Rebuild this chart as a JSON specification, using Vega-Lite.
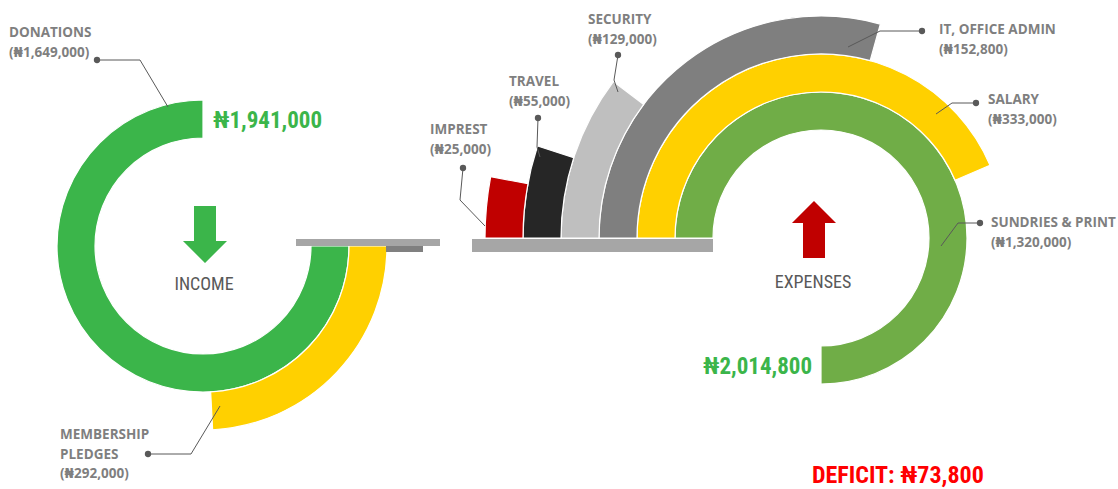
{
  "$schema": "https://vega.github.io/schema/vega-lite/v6.json",
  "width": 1118,
  "height": 489,
  "padding": 0,
  "autosize": {"type": "none"},
  "background": "white",
  "config": {"view": {"stroke": null}},
  "datasets": {
    "rings": [
      {"item": "Donations", "section": "Income", "amount": 1649000, "x": 203, "y": 246, "start": 90, "end": 360, "inner": 0, "outer": 1},
      {"item": "Membership Pledges", "section": "Income", "amount": 292000, "x": 203, "y": 246, "start": 90, "end": 177, "inner": 1, "outer": 2},
      {"item": "Sundries & Print", "section": "Expenses", "amount": 1320000, "x": 821, "y": 238, "start": 270, "end": 540, "inner": 0, "outer": 1},
      {"item": "Salary", "section": "Expenses", "amount": 333000, "x": 821, "y": 238, "start": 270, "end": 426.7, "inner": 1, "outer": 2},
      {"item": "IT, Office Admin", "section": "Expenses", "amount": 152800, "x": 821, "y": 238, "start": 270, "end": 375.5, "inner": 2, "outer": 3},
      {"item": "Security", "section": "Expenses", "amount": 129000, "x": 821, "y": 238, "start": 270, "end": 307, "inner": 3, "outer": 4},
      {"item": "Travel", "section": "Expenses", "amount": 55000, "x": 821, "y": 238, "start": 270, "end": 288, "inner": 4, "outer": 5},
      {"item": "Imprest", "section": "Expenses", "amount": 25000, "x": 821, "y": 238, "start": 270, "end": 280.5, "inner": 5, "outer": 6}
    ],
    "plates": [
      {"item": "Plate", "x": 296, "x2": 440, "y": 239, "y2": 246},
      {"item": "Plate shadow", "x": 386, "x2": 423, "y": 246, "y2": 252},
      {"item": "Plate", "x": 472, "x2": 713, "y": 239, "y2": 252}
    ],
    "leaders": [
      {"label": "Donations", "seq": 0, "x": 97, "y": 60},
      {"label": "Donations", "seq": 1, "x": 140, "y": 60},
      {"label": "Donations", "seq": 2, "x": 168, "y": 107},
      {"label": "Membership Pledges", "seq": 0, "x": 148, "y": 454},
      {"label": "Membership Pledges", "seq": 1, "x": 191, "y": 454},
      {"label": "Membership Pledges", "seq": 2, "x": 220, "y": 406},
      {"label": "Imprest", "seq": 0, "x": 463, "y": 168},
      {"label": "Imprest", "seq": 1, "x": 460, "y": 200},
      {"label": "Imprest", "seq": 2, "x": 485, "y": 226},
      {"label": "Travel", "seq": 0, "x": 538, "y": 118},
      {"label": "Travel", "seq": 1, "x": 537, "y": 147},
      {"label": "Travel", "seq": 2, "x": 540, "y": 157},
      {"label": "Security", "seq": 0, "x": 618, "y": 55},
      {"label": "Security", "seq": 1, "x": 614, "y": 80},
      {"label": "Security", "seq": 2, "x": 618, "y": 92},
      {"label": "IT, Office Admin", "seq": 0, "x": 922, "y": 31},
      {"label": "IT, Office Admin", "seq": 1, "x": 880, "y": 31},
      {"label": "IT, Office Admin", "seq": 2, "x": 848, "y": 47},
      {"label": "Salary", "seq": 0, "x": 976, "y": 103},
      {"label": "Salary", "seq": 1, "x": 952, "y": 103},
      {"label": "Salary", "seq": 2, "x": 936, "y": 114},
      {"label": "Sundries & Print", "seq": 0, "x": 980, "y": 223},
      {"label": "Sundries & Print", "seq": 1, "x": 958, "y": 223},
      {"label": "Sundries & Print", "seq": 2, "x": 941, "y": 246}
    ],
    "arrows": [
      {"section": "Income", "x": 205, "y": 234.5},
      {"section": "Expenses", "x": 814, "y": 229.5}
    ],
    "labels": [
      {"kind": "category", "text": "DONATIONS\n(₦1,649,000)", "x": 9, "y": 33},
      {"kind": "category", "text": "MEMBERSHIP\nPLEDGES\n(₦292,000)", "x": 60, "y": 435},
      {"kind": "category", "text": "IMPREST\n(₦25,000)", "x": 430, "y": 130},
      {"kind": "category", "text": "TRAVEL\n(₦55,000)", "x": 509, "y": 82},
      {"kind": "category", "text": "SECURITY\n(₦129,000)", "x": 588, "y": 20},
      {"kind": "category", "text": "IT, OFFICE ADMIN\n(₦152,800)", "x": 939, "y": 30},
      {"kind": "category", "text": "SALARY\n(₦333,000)", "x": 988, "y": 100},
      {"kind": "category", "text": "SUNDRIES & PRINT\n(₦1,320,000)", "x": 991, "y": 223},
      {"kind": "total", "text": "₦1,941,000", "x": 213, "y": 121},
      {"kind": "total", "text": "₦2,014,800", "x": 703, "y": 367},
      {"kind": "section", "text": "INCOME", "x": 204, "y": 285},
      {"kind": "section", "text": "EXPENSES", "x": 813, "y": 283},
      {"kind": "deficit", "text": "DEFICIT: ₦73,800", "x": 812, "y": 476}
    ]
  },
  "encoding": {
    "x": {"field": "x", "type": "quantitative", "scale": {"domain": [0, 1118], "nice": false, "zero": false}, "axis": null},
    "y": {"field": "y", "type": "quantitative", "scale": {"domain": [0, 489], "reverse": true, "nice": false, "zero": false}, "axis": null}
  },
  "layer": [
    {
      "data": {"name": "rings"},
      "mark": {"type": "arc", "stroke": "white", "strokeWidth": 1.2},
      "encoding": {
        "theta": {"field": "start", "type": "quantitative", "stack": null, "scale": {"domain": [0, 360], "range": [0, 6.283185307179586], "nice": false, "zero": false}},
        "theta2": {"field": "end"},
        "radius": {"field": "outer", "type": "quantitative", "scale": {"type": "linear", "domain": [0, 6], "range": [108, 336], "nice": false, "zero": false}},
        "radius2": {"field": "inner"},
        "color": {
          "field": "item", "type": "nominal", "legend": null,
          "scale": {
            "domain": ["Donations", "Membership Pledges", "Sundries & Print", "Salary", "IT, Office Admin", "Security", "Travel", "Imprest", "Plate", "Plate shadow"],
            "range": ["#3bb54a", "#ffd000", "#70ad47", "#ffd000", "#7f7f7f", "#bfbfbf", "#262626", "#c00000", "#a6a6a6", "#808080"]
          }
        }
      }
    },
    {
      "data": {"name": "plates"},
      "mark": {"type": "rect"},
      "encoding": {
        "x2": {"field": "x2"},
        "y2": {"field": "y2"},
        "color": {
          "field": "item", "type": "nominal", "legend": null,
          "scale": {
            "domain": ["Donations", "Membership Pledges", "Sundries & Print", "Salary", "IT, Office Admin", "Security", "Travel", "Imprest", "Plate", "Plate shadow"],
            "range": ["#3bb54a", "#ffd000", "#70ad47", "#ffd000", "#7f7f7f", "#bfbfbf", "#262626", "#c00000", "#a6a6a6", "#808080"]
          }
        }
      }
    },
    {
      "data": {"name": "leaders"},
      "mark": {"type": "line", "color": "#595959", "strokeWidth": 1},
      "encoding": {
        "detail": {"field": "label", "type": "nominal"},
        "order": {"field": "seq", "type": "quantitative"}
      }
    },
    {
      "data": {"name": "leaders"},
      "transform": [{"filter": "datum.seq == 0"}],
      "mark": {"type": "point", "filled": true, "color": "#595959", "size": 40, "opacity": 1}
    },
    {
      "data": {"name": "arrows"},
      "transform": [{"filter": "datum.section == 'Income'"}],
      "mark": {"type": "point", "filled": true, "opacity": 1, "color": "#3bb54a", "size": 3249, "shape": "M-0.386,-1L0.386,-1L0.386,0.228L0.772,0.228L0,1L-0.772,0.228L-0.386,0.228Z"}
    },
    {
      "data": {"name": "arrows"},
      "transform": [{"filter": "datum.section == 'Expenses'"}],
      "mark": {"type": "point", "filled": true, "opacity": 1, "color": "#c00000", "size": 3249, "shape": "M0,-1L0.772,-0.228L0.386,-0.228L0.386,1L-0.386,1L-0.386,-0.228L-0.772,-0.228Z"}
    },
    {
      "data": {"name": "labels"},
      "transform": [{"filter": "datum.kind == 'category'"}],
      "mark": {"type": "text", "align": "left", "baseline": "middle", "lineBreak": "\n", "lineHeight": 19.5, "font": "Open Sans, DejaVu Sans", "fontWeight": "bold", "fontSize": 13.5, "color": "#7f7f7f"},
      "encoding": {"text": {"field": "text"}}
    },
    {
      "data": {"name": "labels"},
      "transform": [{"filter": "datum.kind == 'total'"}],
      "mark": {"type": "text", "align": "left", "baseline": "middle", "font": "Roboto Condensed, Liberation Sans Narrow, Liberation Sans", "fontWeight": "bold", "fontSize": 23, "color": "#3bb54a"},
      "encoding": {"text": {"field": "text"}}
    },
    {
      "data": {"name": "labels"},
      "transform": [{"filter": "datum.kind == 'section'"}],
      "mark": {"type": "text", "align": "center", "baseline": "middle", "font": "Roboto Condensed, Liberation Sans Narrow, Liberation Sans", "fontSize": 18, "color": "#595959"},
      "encoding": {"text": {"field": "text"}}
    },
    {
      "data": {"name": "labels"},
      "transform": [{"filter": "datum.kind == 'deficit'"}],
      "mark": {"type": "text", "align": "left", "baseline": "middle", "font": "Roboto Condensed, Liberation Sans Narrow, Liberation Sans", "fontWeight": "bold", "fontSize": 24, "color": "#ff0000"},
      "encoding": {"text": {"field": "text"}}
    }
  ]
}
